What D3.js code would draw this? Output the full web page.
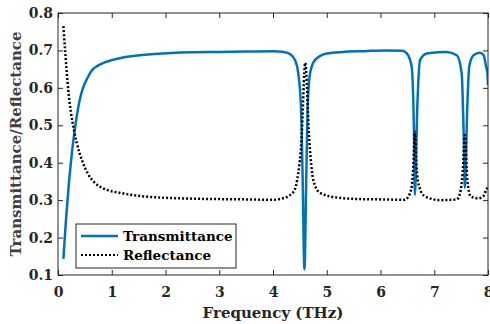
<!DOCTYPE html>
<html>
<head>
<meta charset="utf-8">
<script src="https://cdn.jsdelivr.net/npm/d3@7"></script>
<style>
  body { margin: 0; background: #fff; }
  text { font-family: "DejaVu Serif", serif; font-weight: bold; }
</style>
</head>
<body>
<div id="chart"></div>
<script>
// transmittance samples (THz, value)
const transFreq = [0.1, 0.15, 0.2, 0.25, 0.3, 0.35, 0.4, 0.465, 0.55, 0.62, 0.75, 0.87, 1.0, 1.17, 1.4, 1.73, 2.1, 2.47, 3.0, 3.5, 4.0, 4.2,
  4.32, 4.41, 4.47, 4.52, 4.55, 4.585, 4.62, 4.645, 4.69, 4.78, 5.0, 5.3, 5.7, 6.1, 6.4,
  6.49, 6.58, 6.62, 6.64, 6.685, 6.735, 6.86, 7.05, 7.23, 7.42,
  7.51, 7.55, 7.57, 7.615, 7.65, 7.73, 7.85, 7.92, 7.96, 7.99, 8.0];
const transValues = [0.143, 0.25, 0.34, 0.415, 0.475, 0.525, 0.565, 0.6, 0.627, 0.645, 0.66, 0.668, 0.674, 0.68, 0.685, 0.69, 0.693, 0.695, 0.696, 0.697, 0.698, 0.696,
  0.69, 0.674, 0.639, 0.55, 0.37, 0.115, 0.37, 0.55, 0.639, 0.674, 0.692, 0.696, 0.698, 0.7, 0.699,
  0.692, 0.656, 0.5, 0.314, 0.55, 0.674, 0.692, 0.695, 0.696, 0.687,
  0.639, 0.46, 0.333, 0.55, 0.656, 0.687, 0.694, 0.687, 0.66, 0.639, 0.607];

// reflectance samples (THz, value)
const reflFreq = [0.1, 0.14, 0.19, 0.24, 0.3, 0.35, 0.45, 0.55, 0.68, 0.85, 1.17, 1.6, 2.5, 3.5, 4.0,
  4.13, 4.37, 4.45, 4.53, 4.6, 4.675, 4.75, 4.87, 5.18, 5.6, 6.0, 6.45,
  6.52, 6.58, 6.61, 6.64, 6.67, 6.72, 6.83, 7.11, 7.42,
  7.48, 7.53, 7.57, 7.615, 7.68, 7.82, 7.91, 7.97, 8.0];
const reflValues = [0.765, 0.685, 0.595, 0.535, 0.485, 0.452, 0.405, 0.372, 0.347, 0.331, 0.319, 0.31, 0.304, 0.302, 0.301,
  0.303, 0.32, 0.354, 0.46, 0.667, 0.46, 0.354, 0.32, 0.307, 0.303, 0.302, 0.301,
  0.31, 0.336, 0.39, 0.483, 0.39, 0.336, 0.31, 0.3, 0.302,
  0.319, 0.375, 0.474, 0.354, 0.31, 0.305, 0.31, 0.328, 0.336];

const xTicks = [0, 1, 2, 3, 4, 5, 6, 7, 8];
const yTicks = [0.1, 0.2, 0.3, 0.4, 0.5, 0.6, 0.7, 0.8];
const seriesNames = ["Transmittance", "Reflectance"];

const W = 490, H = 324;
const MARGIN = { LEFT: 58, RIGHT: 2, TOP: 13, BOTTOM: 49 };
const WIDTH = W - MARGIN.LEFT - MARGIN.RIGHT;
const HEIGHT = H - MARGIN.TOP - MARGIN.BOTTOM;

const svg = d3.select("#chart").append("svg")
    .attr("width", W)
    .attr("height", H);

const g = svg.append("g")
    .attr("transform", `translate(${MARGIN.LEFT}, ${MARGIN.TOP})`);

const x = d3.scaleLinear().domain([0, 8]).range([0, WIDTH]);
const y = d3.scaleLinear().domain([0.1, 0.8]).range([HEIGHT, 0]);

g.append("clipPath").attr("id", "clip")
    .append("rect").attr("width", WIDTH).attr("height", HEIGHT);

const line = d3.line()
    .x(d => x(d[0]))
    .y(d => y(d[1]))
    .curve(d3.curveMonotoneX);

const trans = transFreq.map((f, i) => [f, transValues[i]]);
const refl = reflFreq.map((f, i) => [f, reflValues[i]]);

g.append("path")
    .datum(trans)
    .attr("clip-path", "url(#clip)")
    .attr("d", line)
    .attr("fill", "none")
    .attr("stroke", "#0072BD")
    .attr("stroke-width", 2.5);

g.append("path")
    .datum(refl)
    .attr("clip-path", "url(#clip)")
    .attr("d", line)
    .attr("fill", "none")
    .attr("stroke", "#000")
    .attr("stroke-width", 2.5)
    .attr("stroke-dasharray", "2,2");

// axes, ticks pointing inward, mirrored on top/right
const axisColor = "#262626";
function styleAxis(sel) {
    sel.select(".domain").remove();
    sel.selectAll("line").attr("stroke", axisColor);
    sel.selectAll("text").attr("fill", axisColor).style("font-size", "14px");
}

g.append("g")
    .attr("transform", `translate(0, ${HEIGHT})`)
    .call(d3.axisBottom(x).tickValues(xTicks).tickFormat(d3.format("d")).tickSize(-5).tickPadding(12))
    .call(styleAxis);

g.append("g")
    .call(d3.axisLeft(y).tickValues(yTicks).tickFormat(d3.format(".1f")).tickSize(-5).tickPadding(5))
    .call(styleAxis);

g.append("g")
    .call(d3.axisTop(x).tickValues(xTicks).tickFormat("").tickSize(-5))
    .call(styleAxis);

g.append("g")
    .attr("transform", `translate(${WIDTH}, 0)`)
    .call(d3.axisRight(y).tickValues(yTicks).tickFormat("").tickSize(-5))
    .call(styleAxis);

g.append("rect")
    .attr("width", WIDTH)
    .attr("height", HEIGHT)
    .attr("fill", "none")
    .attr("stroke", axisColor)
    .attr("stroke-width", 1);

// axis labels
svg.append("text")
    .attr("x", MARGIN.LEFT + WIDTH / 2)
    .attr("y", 318)
    .attr("text-anchor", "middle")
    .attr("fill", "#262626")
    .style("font-size", "15px")
    .text("Frequency (THz)");

svg.append("text")
    .attr("transform", `translate(21, ${MARGIN.TOP + HEIGHT / 2}) rotate(-90)`)
    .attr("text-anchor", "middle")
    .attr("fill", "#404040")
    .style("font-size", "15px")
    .text("Transmittance/Reflectance");

// legend
const legend = svg.append("g").attr("transform", "translate(76, 224)");
legend.append("rect")
    .attr("width", 160)
    .attr("height", 44)
    .attr("fill", "#fff")
    .attr("stroke", axisColor)
    .attr("stroke-width", 1);

seriesNames.forEach((name, i) => {
    const ly = 12 + i * 19;
    legend.append("line")
        .attr("x1", 5).attr("x2", 42)
        .attr("y1", ly).attr("y2", ly)
        .attr("stroke", i === 0 ? "#0072BD" : "#000")
        .attr("stroke-width", i === 0 ? 2.5 : 2)
        .attr("stroke-dasharray", i === 0 ? null : "2,2");
    legend.append("text")
        .attr("x", 47)
        .attr("y", ly + 5)
        .attr("fill", "#000")
        .style("font-size", "13.5px")
        .text(name);
});
</script>
</body>
</html>
